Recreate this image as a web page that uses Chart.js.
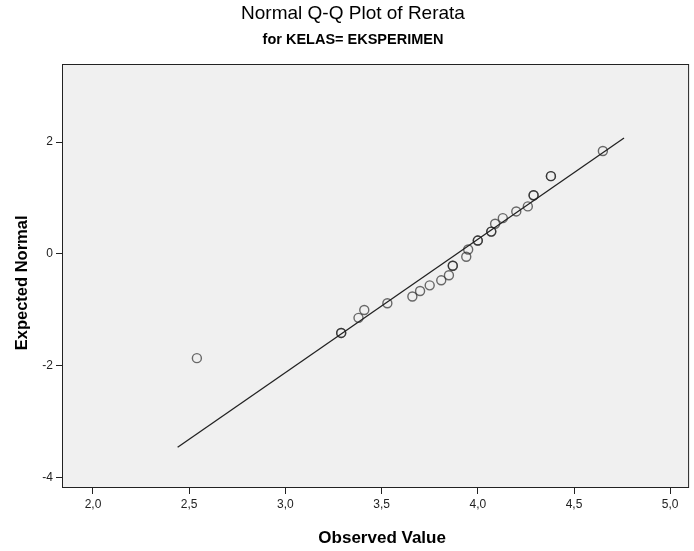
<!DOCTYPE html>
<html>
<head>
<meta charset="utf-8">
<script src="https://cdn.jsdelivr.net/npm/chart.js@4/dist/chart.umd.min.js"></script>
<style>
  html, body { margin: 0; background: #fff; }
</style>
</head>
<body>
<canvas id="qqCanvas" width="694" height="551"></canvas>
<script>
// observed Rerata values and their expected normal scores (ties repeated)
const observed = [2.54, 3.29, 3.29, 3.38, 3.41, 3.53, 3.66, 3.70, 3.75, 3.81, 3.85, 3.87, 3.87,
                  3.94, 3.95, 4.00, 4.00, 4.07, 4.07, 4.09, 4.13, 4.20, 4.26, 4.29, 4.29, 4.38, 4.38, 4.65];
const expected = [-1.86, -1.41, -1.41, -1.14, -1.00, -0.88, -0.76, -0.66, -0.56, -0.47, -0.38, -0.21, -0.21,
                  -0.05, 0.08, 0.24, 0.24, 0.40, 0.40, 0.54, 0.64, 0.76, 0.85, 1.05, 1.05, 1.39, 1.39, 1.84];

// reference line end points
const lineX = [2.44, 4.76];
const lineY = [-3.45, 2.07];

const xTicks = [2.0, 2.5, 3.0, 3.5, 4.0, 4.5, 5.0];
const yTicks = [-4, -2, 0, 2];

const FONT = "'Liberation Sans', Arial, sans-serif";

// grey plot background and black frame like SPSS
const plotFrame = {
  id: 'plotFrame',
  beforeDraw(chart) {
    const { ctx, chartArea: a } = chart;
    ctx.save();
    ctx.fillStyle = '#f0f0f0';
    ctx.fillRect(a.left, a.top, a.right - a.left, a.bottom - a.top);
    ctx.restore();
  },
  afterDraw(chart) {
    const { ctx, chartArea: a } = chart;
    ctx.save();
    ctx.strokeStyle = '#222';
    ctx.lineWidth = 1;
    ctx.strokeRect(a.left + 0.5, a.top + 0.5, a.right - a.left, a.bottom - a.top - 1);
    ctx.restore();
  }
};

const ctx = document.getElementById('qqCanvas');

new Chart(ctx, {
  type: 'scatter',
  data: {
    datasets: [{
      label: 'Observed',
      data: observed.map((v, i) => ({ x: v, y: expected[i] })),
      pointRadius: 4.5,
      pointBorderWidth: 1.4,
      pointBackgroundColor: 'rgba(0,0,0,0)',
      pointBorderColor: 'rgba(30,30,30,0.65)'
    }, {
      label: 'Line',
      data: lineX.map((v, i) => ({ x: v, y: lineY[i] })),
      showLine: true,
      pointRadius: 0,
      borderColor: '#222',
      borderWidth: 1.3
    }]
  },
  options: {
    responsive: false,
    animation: false,
    layout: {
      padding: { left: 16, right: 4, top: 0, bottom: 0 }
    },
    plugins: {
      legend: { display: false },
      tooltip: { enabled: false },
      title: {
        display: true,
        text: 'Normal Q-Q Plot of Rerata',
        color: '#000',
        font: { family: FONT, size: 19, weight: 'normal' },
        padding: { top: 2, bottom: 6 }
      },
      subtitle: {
        display: true,
        text: 'for KELAS= EKSPERIMEN',
        color: '#000',
        font: { family: FONT, size: 14.5, weight: 'bold' },
        padding: { top: 0, bottom: 15.8 }
      }
    },
    scales: {
      x: {
        type: 'linear',
        min: 1.839,
        max: 5.093,
        afterBuildTicks: s => { s.ticks = xTicks.map(v => ({ value: v })); },
        afterFit: s => { s.height = 63; },
        border: { display: false },
        grid: { drawOnChartArea: false, drawTicks: true, tickLength: 6, color: '#222' },
        ticks: {
          color: '#222',
          padding: 3,
          font: { family: FONT, size: 12 },
          callback: v => v.toFixed(1).replace('.', ',')
        },
        title: {
          display: true,
          text: '   Observed Value',
          color: '#000',
          font: { family: FONT, size: 17, weight: 'bold' },
          padding: { top: 4, bottom: 2 }
        }
      },
      y: {
        type: 'linear',
        min: -4.179,
        max: 3.393,
        afterBuildTicks: s => { s.ticks = yTicks.map(v => ({ value: v })); },
        afterFit: s => { s.width = 46; },
        border: { display: false },
        grid: { drawOnChartArea: false, drawTicks: true, tickLength: 6, color: '#222' },
        ticks: {
          color: '#222',
          padding: 3,
          font: { family: FONT, size: 12 },
          callback: v => String(v)
        },
        title: {
          display: true,
          text: 'Expected Normal   ',
          color: '#000',
          font: { family: FONT, size: 16.5, weight: 'bold', lineHeight: 0.8 },
          padding: { top: 0, bottom: 0 }
        }
      }
    }
  },
  plugins: [plotFrame]
});
</script>
</body>
</html>
